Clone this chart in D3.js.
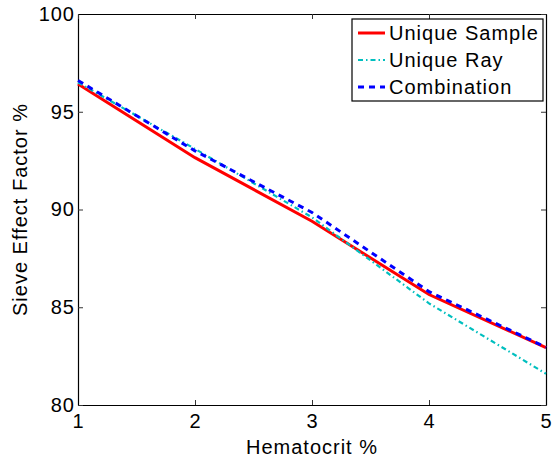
<!DOCTYPE html>
<html>
<head>
<meta charset="utf-8">
<script src="https://cdn.jsdelivr.net/npm/d3@7"></script>
<style>
  body { margin: 0; background: #fff; }
  text { font-family: "Liberation Sans", Arial, sans-serif; fill: #000; }
</style>
</head>
<body>
<div id="chart"></div>
<script>
// data
var hematocrit = [1, 2, 3, 4, 5];
var uniqueSample = [96.42, 92.65, 89.4, 85.65, 82.93];
var uniqueRay = [96.5, 93.1, 89.6, 85.2, 81.6];
var combination = [96.6, 93.0, 89.85, 85.8, 82.95];
var seriesNames = ["Unique Sample", "Unique Ray", "Combination"];
var xTicks = [1, 2, 3, 4, 5];
var yTicks = [80, 85, 90, 95, 100];

var svgWidth = 553, svgHeight = 459;
var margin = { top: 14, right: 7, bottom: 54, left: 78 };
var chartWidth = svgWidth - margin.left - margin.right;
var chartHeight = svgHeight - margin.top - margin.bottom;
var fontSize = 20, spacing = 1;

var svg = d3.select("#chart").append("svg")
    .attr("width", svgWidth)
    .attr("height", svgHeight);

var chartGroup = svg.append("g")
    .attr("transform", `translate(${margin.left}, ${margin.top})`);

var xScale = d3.scaleLinear().domain([1, 5]).range([0, chartWidth]);
var yScale = d3.scaleLinear().domain([80, 100]).range([chartHeight, 0]);

// axes, matlab style: ticks inside, box all round
var bottomAxis = d3.axisBottom(xScale).tickValues(xTicks).tickFormat(d3.format("d"))
    .tickSizeInner(-5).tickSizeOuter(0).tickPadding(9);
var leftAxis = d3.axisLeft(yScale).tickValues(yTicks).tickFormat(d3.format("d"))
    .tickSizeInner(-5).tickSizeOuter(0).tickPadding(3);
var topAxis = d3.axisTop(xScale).tickValues(xTicks).tickSizeInner(-5).tickSizeOuter(0).tickFormat("");
var rightAxis = d3.axisRight(yScale).tickValues(yTicks).tickSizeInner(-5).tickSizeOuter(0).tickFormat("");

var xAxis = chartGroup.append("g")
    .attr("transform", `translate(0, ${chartHeight})`)
    .call(bottomAxis);
var yAxis = chartGroup.append("g").call(leftAxis);
chartGroup.append("g").call(topAxis);
chartGroup.append("g").attr("transform", `translate(${chartWidth}, 0)`).call(rightAxis);

chartGroup.selectAll(".tick line").attr("stroke", "#333");
chartGroup.selectAll(".domain").attr("stroke", "#000").attr("stroke-width", 1.2);
chartGroup.selectAll(".tick text")
    .attr("font-size", fontSize)
    .attr("font-family", "Liberation Sans")
    .attr("letter-spacing", spacing);

// axis labels
svg.append("text")
    .attr("x", margin.left + chartWidth / 2)
    .attr("y", 454)
    .attr("text-anchor", "middle")
    .attr("font-size", fontSize)
    .attr("letter-spacing", spacing)
    .text("Hematocrit %");

svg.append("text")
    .attr("transform", `translate(27, ${margin.top + chartHeight / 2}) rotate(-90)`)
    .attr("text-anchor", "middle")
    .attr("font-size", fontSize)
    .attr("letter-spacing", spacing)
    .text("Sieve Effect Factor %");

// lines
var series = [
    { name: seriesNames[0], values: uniqueSample, color: "#ff0000", width: 3, dash: null },
    { name: seriesNames[1], values: uniqueRay, color: "#00bfbf", width: 2.2, dash: "5,3,1.5,3" },
    { name: seriesNames[2], values: combination, color: "#0000ff", width: 3, dash: "6,5" }
];

var line = d3.line()
    .x((d, i) => xScale(hematocrit[i]))
    .y(d => yScale(d));

series.forEach(function (s) {
    chartGroup.append("path")
        .datum(s.values)
        .attr("fill", "none")
        .attr("stroke", s.color)
        .attr("stroke-width", s.width)
        .attr("stroke-dasharray", s.dash)
        .attr("d", line);
});

// legend
var legend = svg.append("g").attr("transform", "translate(352, 19)");
legend.append("rect")
    .attr("x", 0).attr("y", 0)
    .attr("width", 191).attr("height", 82)
    .attr("fill", "#fff")
    .attr("stroke", "#000")
    .attr("stroke-width", 1.2);

series.forEach(function (s, i) {
    var y = 14 + i * 27;
    legend.append("line")
        .attr("x1", 6).attr("x2", 33)
        .attr("y1", y).attr("y2", y)
        .attr("stroke", s.color)
        .attr("stroke-width", s.width)
        .attr("stroke-dasharray", s.dash);
    legend.append("text")
        .attr("x", 37)
        .attr("y", y)
        .attr("dy", "0.35em")
        .attr("font-size", fontSize)
        .attr("letter-spacing", spacing)
        .text(s.name);
});
</script>
</body>
</html>
